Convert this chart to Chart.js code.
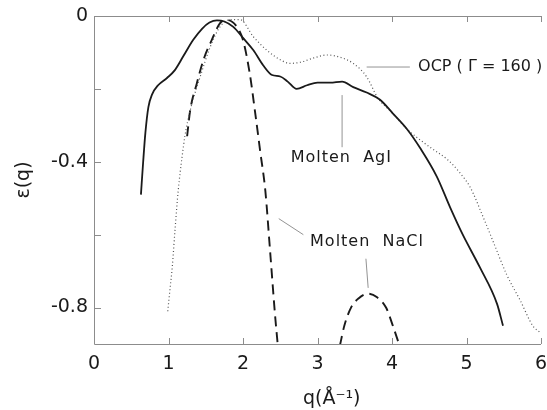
<!DOCTYPE html>
<html>
<head>
<meta charset="utf-8">
<script src="https://cdn.jsdelivr.net/npm/chart.js@4"></script>
<style>
  html, body { margin: 0; padding: 0; background: #fff; }
  #wrap { width: 547px; height: 410px; }
</style>
</head>
<body>
<div id="wrap"><canvas id="epsChart" width="547" height="410"></canvas></div>
<script>
// ---- data ----
// molten AgI (solid)
const agiQ = [0.63, 0.66, 0.69, 0.73, 0.78, 0.86, 0.98, 1.08, 1.20, 1.33, 1.45, 1.55, 1.65, 1.75, 1.87, 2.00, 2.14, 2.27, 2.39, 2.50, 2.60, 2.72, 2.86, 3.00, 3.17, 3.33, 3.48, 3.66, 3.84, 4.01, 4.20, 4.38, 4.60, 4.78, 4.95, 5.18, 5.41, 5.49];
const agiE = [-0.49, -0.40, -0.32, -0.25, -0.215, -0.19, -0.17, -0.15, -0.11, -0.066, -0.035, -0.018, -0.012, -0.015, -0.03, -0.06, -0.094, -0.135, -0.162, -0.166, -0.18, -0.20, -0.19, -0.183, -0.183, -0.18, -0.195, -0.21, -0.23, -0.267, -0.31, -0.363, -0.44, -0.525, -0.60, -0.69, -0.79, -0.85];

// OCP, Gamma = 160 (dotted)
const ocpQ = [0.99, 1.02, 1.05, 1.09, 1.13, 1.18, 1.22, 1.29, 1.42, 1.56, 1.69, 1.83, 1.96, 2.14, 2.32, 2.50, 2.63, 2.77, 2.95, 3.13, 3.30, 3.48, 3.66, 3.81, 4.00, 4.20, 4.51, 4.75, 4.91, 5.05, 5.22, 5.36, 5.54, 5.72, 5.89, 6.00];
const ocpE = [-0.81, -0.75, -0.69, -0.58, -0.48, -0.39, -0.33, -0.26, -0.17, -0.085, -0.03, -0.01, -0.01, -0.057, -0.094, -0.12, -0.13, -0.127, -0.115, -0.107, -0.113, -0.13, -0.167, -0.225, -0.265, -0.31, -0.36, -0.395, -0.43, -0.47, -0.55, -0.62, -0.71, -0.78, -0.85, -0.87];

// molten NaCl (dashed), two branches
const naclQ1 = [1.25, 1.29, 1.38, 1.47, 1.58, 1.69, 1.78, 1.92, 2.00, 2.09, 2.16, 2.23, 2.30, 2.36, 2.43, 2.47];
const naclE1 = [-0.33, -0.26, -0.185, -0.12, -0.066, -0.02, -0.011, -0.03, -0.066, -0.157, -0.26, -0.37, -0.48, -0.635, -0.82, -0.91];
const naclQ2 = [3.30, 3.36, 3.45, 3.55, 3.68, 3.80, 3.92, 4.02, 4.11];
const naclE2 = [-0.905, -0.85, -0.80, -0.775, -0.762, -0.772, -0.80, -0.855, -0.91];

const xTicks = [0, 1, 2, 3, 4, 5, 6];
const yTicks = [0, -0.2, -0.4, -0.6, -0.8];
const yLabelled = [0, -0.4, -0.8];

const FONT = "'DejaVu Sans', sans-serif";
const INK = "#1a1a1a";
const FRAME = "#8c8c8c";

function toPoints(qs, es) {
  return qs.map((q, i) => ({ x: q, y: es[i] }));
}

// frame (left, top, bottom) with inward ticks
const framePlugin = {
  id: "frame",
  afterDraw(chart) {
    const { ctx, chartArea: a, scales: { x, y } } = chart;
    ctx.save();
    ctx.strokeStyle = FRAME;
    ctx.lineWidth = 1;
    ctx.beginPath();
    ctx.moveTo(a.right, a.top + 0.5); ctx.lineTo(a.left + 0.5, a.top + 0.5);
    ctx.lineTo(a.left + 0.5, a.bottom + 0.5); ctx.lineTo(a.right, a.bottom + 0.5);
    xTicks.slice(1).forEach(v => {
      const px = Math.round(x.getPixelForValue(v)) + 0.5;
      ctx.moveTo(px, a.bottom); ctx.lineTo(px, a.bottom - 6);
      ctx.moveTo(px, a.top); ctx.lineTo(px, a.top + 6);
    });
    yTicks.forEach(v => {
      const py = Math.round(y.getPixelForValue(v)) + 0.5;
      ctx.moveTo(a.left, py); ctx.lineTo(a.left + 7, py);
    });
    ctx.stroke();
    ctx.restore();
  }
};

// curve labels and leader lines, placed in data units
const notes = [
  { text: "OCP ( \u0393 = 160 )", q: 4.35, e: -0.14, gap: "0px", line: [[3.66, -0.14], [4.24, -0.14]] },
  { text: "Molten  AgI", q: 2.64, e: -0.388, gap: "1px", line: [[3.33, -0.217], [3.33, -0.36]] },
  { text: "Molten  NaCl", q: 2.90, e: -0.62, gap: "1px", line: [[2.48, -0.556], [2.81, -0.60]] },
  { text: null, line: [[3.65, -0.666], [3.68, -0.746]] }
];

const notePlugin = {
  id: "notes",
  afterDatasetsDraw(chart) {
    const { ctx, scales: { x, y } } = chart;
    ctx.save();
    ctx.strokeStyle = "#777";
    ctx.lineWidth = 0.8;
    ctx.fillStyle = INK;
    ctx.font = "16px " + FONT;
    ctx.textBaseline = "middle";
    notes.forEach(n => {
      ctx.beginPath();
      ctx.moveTo(x.getPixelForValue(n.line[0][0]), y.getPixelForValue(n.line[0][1]));
      ctx.lineTo(x.getPixelForValue(n.line[1][0]), y.getPixelForValue(n.line[1][1]));
      ctx.stroke();
      if (n.text) {
        ctx.letterSpacing = n.gap;
        ctx.fillText(n.text, x.getPixelForValue(n.q), y.getPixelForValue(n.e));
      }
    });
    ctx.restore();
  }
};

const lineBase = { fill: false, pointRadius: 0, cubicInterpolationMode: "monotone", borderColor: INK };

new Chart(document.getElementById("epsChart"), {
  type: "line",
  data: {
    datasets: [
      { ...lineBase, label: "Molten AgI", data: toPoints(agiQ, agiE), borderWidth: 1.8 },
      { ...lineBase, label: "OCP", data: toPoints(ocpQ, ocpE), borderWidth: 1.2, borderColor: "#555", borderDash: [1, 2.5] },
      { ...lineBase, label: "Molten NaCl", data: toPoints(naclQ1, naclE1), borderWidth: 1.9, borderDash: [10, 6] },
      { ...lineBase, label: "Molten NaCl 2", data: toPoints(naclQ2, naclE2), borderWidth: 1.9, borderDash: [10, 6] }
    ]
  },
  options: {
    responsive: false,
    animation: false,
    layout: { padding: { top: 16, right: 6, left: 0, bottom: 0 } },
    plugins: { legend: { display: false }, tooltip: { enabled: false } },
    scales: {
      x: {
        type: "linear", min: 0, max: 6,
        afterFit: s => { s.height = 66; s.paddingLeft = 0; s.paddingRight = 0; },
        afterBuildTicks: s => { s.ticks = xTicks.map(v => ({ value: v })); },
        grid: { display: false, drawTicks: false },
        border: { display: false },
        ticks: { color: INK, font: { family: FONT, size: 19 }, padding: 9 },
        title: { display: true, text: "\u2003\u2002q(\u00c5\u207b\u00b9)", color: INK, font: { family: FONT, size: 19 }, padding: { top: 2, bottom: 0 } }
      },
      y: {
        type: "linear", min: -0.9, max: 0,
        afterFit: s => { s.width = 94; s.paddingTop = 0; s.paddingBottom = 0; },
        afterBuildTicks: s => { s.ticks = yLabelled.map(v => ({ value: v })); },
        grid: { display: false, drawTicks: false },
        border: { display: false },
        ticks: { color: INK, font: { family: FONT, size: 19 }, padding: 6, callback: v => v === 0 ? "0" : v.toFixed(1) },
        title: { display: true, text: "\u03b5(q)", color: INK, font: { family: FONT, size: 19 }, padding: { top: 13, bottom: 0 } }
      }
    }
  },
  plugins: [framePlugin, notePlugin]
});
</script>
</body>
</html>
